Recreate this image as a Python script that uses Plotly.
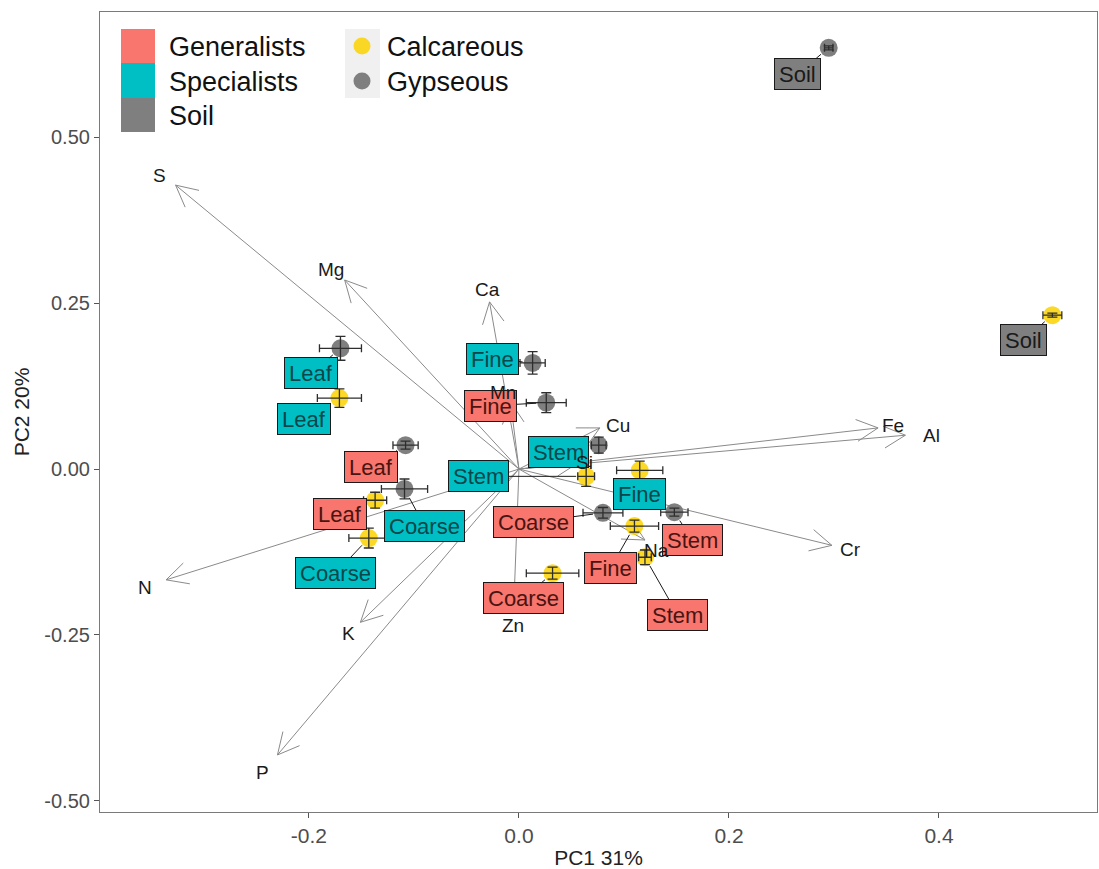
import math
import plotly.graph_objects as go

# ---------------- data ----------------
soil_type = ["Gypseous"] * 9 + ["Calcareous"] * 9
group = ["Soil", "Specialists", "Specialists", "Generalists", "Generalists",
         "Specialists", "Specialists", "Generalists", "Generalists",
         "Soil", "Specialists", "Generalists", "Specialists", "Specialists",
         "Specialists", "Generalists", "Generalists", "Generalists"]
organ = ["Soil", "Leaf", "Fine", "Fine", "Leaf", "Coarse", "Stem", "Coarse", "Stem",
         "Soil", "Leaf", "Leaf", "Coarse", "Stem", "Fine", "Fine", "Stem", "Coarse"]
pc1 = [0.295, -0.170, 0.013, 0.026, -0.108, -0.109, 0.076, 0.080, 0.148,
       0.508, -0.171, -0.137, -0.143, 0.064, 0.115, 0.110, 0.120, 0.032]
pc2 = [0.635, 0.182, 0.160, 0.100, 0.036, -0.030, 0.036, -0.066, -0.065,
       0.232, 0.107, -0.047, -0.104, -0.011, -0.002, -0.086, -0.133, -0.157]
pc1_se = [0.004, 0.020, 0.012, 0.019, 0.012, 0.022, 0.007, 0.019, 0.013,
          0.009, 0.021, 0.011, 0.019, 0.008, 0.022, 0.023, 0.006, 0.025]
pc2_se = [0.003, 0.018, 0.017, 0.015, 0.006, 0.015, 0.012, 0.008, 0.006,
          0.003, 0.014, 0.012, 0.015, 0.015, 0.014, 0.009, 0.011, 0.009]

variables = ["S", "Mg", "Ca", "Mn", "Cu", "Fe", "Al", "Si", "Na", "Cr", "N", "K", "Zn", "P"]
load_pc1 = [-0.327, -0.166, -0.028, -0.008, 0.077, 0.342, 0.368, 0.056, 0.120, 0.298,
            -0.336, -0.151, -0.005, -0.230]
load_pc2 = [0.428, 0.285, 0.252, 0.101, 0.062, 0.062, 0.051, 0.009, -0.107, -0.115,
            -0.167, -0.231, -0.210, -0.431]

x_ticks = [-0.2, 0.0, 0.2, 0.4]
y_ticks = [-0.50, -0.25, 0.00, 0.25, 0.50]
x_ticktext = [f"{v:.1f}" for v in x_ticks]
y_ticktext = [f"{v:.2f}" for v in y_ticks]
x_title = "PC1 31%"
y_title = "PC2 20%"
group_levels = ["Generalists", "Specialists", "Soil"]
soil_levels = ["Calcareous", "Gypseous"]

# ---------------- styling / layout ----------------
W, H = 1099, 869
ML, MR, MT, MB = 100, 2, 12, 57
XR = [-0.399, 0.5505]
YR = [-0.517, 0.689]
PW, PH = W - ML - MR, H - MT - MB
SX = PW / (XR[1] - XR[0])
SY = PH / (YR[1] - YR[0])

FONT = "Liberation Sans, Arial, sans-serif"
NARROW = "Liberation Sans Narrow, Arial Narrow, Liberation Sans, Arial, sans-serif"

fill_col = {"Generalists": "#F8766D", "Specialists": "#00BFC4", "Soil": "#7F7F7F"}
text_col = {"Generalists": "#4a1410", "Specialists": "#06474b", "Soil": "#1a1a1a"}
pt_col = {"Calcareous": "rgba(250,210,0,0.85)", "Gypseous": "rgba(120,120,120,0.95)"}

# pixel offsets (label centre relative to point; +y down) for the repelled labels
label_off = [(-31, 26), (-29, 25), (-40, -4), (-56, 3), (-35, 22), (20, 37), (-40, 7), (-69, 9), (18, 28),
             (-29, 25), (-35, 21), (-35, 14), (-33, 35), (-108, 0), (0, 24), (-24, 42), (33, 58), (-29, 25)]
# pixel offsets of the variable names relative to arrow tips (+y down)
var_off = [(-16, -10), (-14, -10), (-2, -12), (-8, -10), (18, -2), (15, -2), (26, 0), (7, -1),
           (12, 10), (19, 4), (-21, 8), (-12, 11), (-1, 17), (-15, 18)]

fig = go.Figure()

# loading vectors (shafts)
vx, vy = [], []
for a, b in zip(load_pc1, load_pc2):
    vx += [0, a, None]
    vy += [0, b, None]
fig.add_trace(go.Scatter(x=vx, y=vy, mode="lines", line=dict(color="#8a8a8a", width=1),
                         hoverinfo="skip", showlegend=False))

# open arrow heads as pixel-sized wing shapes
shapes = []
WING, ANG = 24, math.radians(27)
for a, b in zip(load_pc1, load_pc2):
    ux, uy = a * SX, b * SY
    n = math.hypot(ux, uy)
    ux, uy = ux / n, uy / n
    for s in (1, -1):
        c, si = math.cos(s * ANG), math.sin(s * ANG)
        wx = -(ux * c - uy * si) * WING
        wy = -(ux * si + uy * c) * WING
        shapes.append(dict(type="line", xref="x", yref="y", xsizemode="pixel", ysizemode="pixel",
                           xanchor=a, yanchor=b, x0=0, y0=0, x1=wx, y1=wy,
                           line=dict(color="#8a8a8a", width=1), layer="below"))

# points
for st in soil_levels:
    idx = [i for i in range(len(pc1)) if soil_type[i] == st]
    fig.add_trace(go.Scatter(x=[pc1[i] for i in idx], y=[pc2[i] for i in idx], mode="markers",
                             marker=dict(size=18, color=pt_col[st], line=dict(width=0)),
                             showlegend=False, hoverinfo="skip"))
# error bars on top of points
fig.add_trace(go.Scatter(x=pc1, y=pc2, mode="markers", marker=dict(size=1, opacity=0),
                         error_x=dict(type="data", array=pc1_se, color="#2e2e2e", thickness=1.3, width=4),
                         error_y=dict(type="data", array=pc2_se, color="#2e2e2e", thickness=1.3, width=5),
                         showlegend=False, hoverinfo="skip"))

annotations = []
for i in range(len(pc1)):
    g = group[i]
    dx, dy = label_off[i]
    annotations.append(dict(x=pc1[i], y=pc2[i], xref="x", yref="y", text=organ[i],
                            showarrow=True, arrowhead=0, arrowwidth=1, arrowcolor="#1a1a1a",
                            ax=dx, ay=dy, standoff=10,
                            bgcolor=fill_col[g], bordercolor="#1a1a1a", borderwidth=1,
                            borderpad=4, height=22,
                            font=dict(family=FONT, size=22, color=text_col[g])))
for i, v in enumerate(variables):
    dx, dy = var_off[i]
    annotations.append(dict(x=load_pc1[i], y=load_pc2[i], xref="x", yref="y", text=v,
                            showarrow=False, xshift=dx, yshift=-dy,
                            font=dict(family=FONT, size=19, color="#1a1a1a")))

# manual legend (paper coordinates from pixel positions)
def fx(px):
    return (px - ML) / PW


def fy(py):
    return (H - MB - py) / PH


key_rows = [(29, 63), (63, 98), (98, 132)]
text_rows = [47, 82, 116]
for lvl, (y0, y1), ty in zip(group_levels, key_rows, text_rows):
    shapes.append(dict(type="rect", xref="paper", yref="paper", x0=fx(121), x1=fx(155),
                       y0=fy(y1), y1=fy(y0), fillcolor=fill_col[lvl], line=dict(width=0), layer="above"))
    annotations.append(dict(xref="paper", yref="paper", x=fx(167), y=fy(ty), text=lvl,
                            showarrow=False, xanchor="left", yanchor="middle",
                            font=dict(family=FONT, size=27, color="#111111")))
shapes.append(dict(type="rect", xref="paper", yref="paper", x0=fx(345), x1=fx(380),
                   y0=fy(98), y1=fy(29), fillcolor="#F0F0F0", line=dict(width=0), layer="above"))
for lvl, ty in zip(soil_levels, [46, 81]):
    shapes.append(dict(type="circle", xref="paper", yref="paper", xsizemode="pixel", ysizemode="pixel",
                       xanchor=fx(362), yanchor=fy(ty), x0=-8.5, x1=8.5, y0=-8.5, y1=8.5,
                       fillcolor=pt_col[lvl], line=dict(width=0), layer="above"))
    annotations.append(dict(xref="paper", yref="paper", x=fx(385), y=fy(ty + 1), text=lvl,
                            showarrow=False, xanchor="left", yanchor="middle",
                            font=dict(family=FONT, size=27, color="#111111")))

fig.update_layout(
    width=W, height=H, margin=dict(l=ML, r=MR, t=MT, b=MB, autoexpand=False),
    paper_bgcolor="white", plot_bgcolor="white",
    shapes=shapes, annotations=annotations, showlegend=False,
    xaxis=dict(range=XR, tickvals=x_ticks, ticktext=x_ticktext, showgrid=False, zeroline=False,
               showline=True, mirror=True, linecolor="#7a7a7a", linewidth=1.2,
               ticks="outside", ticklen=5, tickcolor="#555555",
               tickfont=dict(family=NARROW, size=21, color="#4D4D4D"),
               title=dict(text=x_title, standoff=6, font=dict(family=NARROW, size=21, color="#222222"))),
    yaxis=dict(range=YR, tickvals=y_ticks, ticktext=y_ticktext, showgrid=False, zeroline=False,
               showline=True, mirror=True, linecolor="#7a7a7a", linewidth=1.2,
               ticks="outside", ticklen=5, tickcolor="#555555",
               tickfont=dict(family=FONT, size=20, color="#4D4D4D"),
               title=dict(text=y_title, standoff=8, font=dict(family=NARROW, size=21, color="#222222"))),
)

fig.write_html("out.html")
